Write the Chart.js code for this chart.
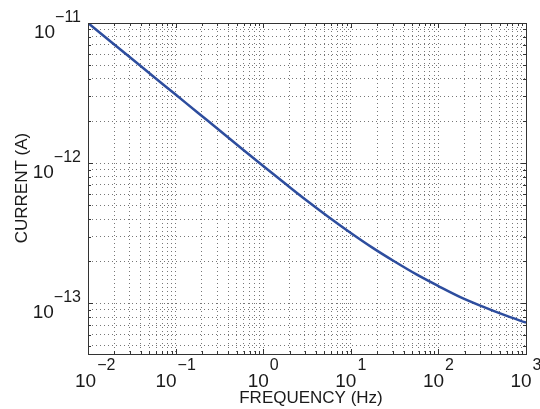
<!DOCTYPE html>
<html>
<head>
<meta charset="utf-8">
<script src="https://cdn.jsdelivr.net/npm/chart.js@4/dist/chart.umd.min.js"></script>
<style>
  html, body { margin: 0; padding: 0; background: #fff; }
  canvas { display: block; }
</style>
</head>
<body>
<canvas id="myChart" width="540" height="409"></canvas>
<script>
// Data (log-log plot), quarter decade steps
const frequency = [0.01, 0.0178, 0.0316, 0.0562, 0.1, 0.178, 0.316, 0.562, 1, 1.78, 3.16,
  5.62, 10, 17.8, 31.6, 56.2, 100, 178, 316, 562, 1000];
const current = [1.0e-11, 7.45e-12, 5.56e-12, 4.14e-12, 3.09e-12, 2.30e-12, 1.72e-12, 1.28e-12,
  9.55e-13, 7.16e-13, 5.40e-13, 4.12e-13, 3.18e-13, 2.49e-13, 1.99e-13, 1.61e-13, 1.33e-13,
  1.11e-13, 9.53e-14, 8.28e-14, 7.29e-14];

// Axis decades that get a "10^n" label
const xDecades = [-2, -1, 0, 1, 2, 3];
const yDecades = [-13, -12, -11];
const xLimits = [0.01, 1000];
const yLimits = [4.36e-14, 1e-11];

const FONT = '"Liberation Sans", Arial, sans-serif';

// 1..9 x 10^n ticks inside the limits (grid positions)
function logTicks(min, max) {
  const out = [];
  for (let e = Math.floor(Math.log10(min)); e <= Math.ceil(Math.log10(max)); e++) {
    for (let m = 1; m <= 9; m++) {
      const v = m * Math.pow(10, e);
      if (v >= min * 0.999 && v <= max * 1.001) out.push({ value: v, major: m === 1 });
    }
  }
  return out;
}

function expText(e) {
  return e < 0 ? '\u2212' + (-e) : String(e);
}

// Box, inward tick marks and MATLAB style 10^n labels
const axesDecor = {
  id: 'axesDecor',
  afterDraw(chart) {
    const { ctx, chartArea: a, scales: { x, y } } = chart;
    ctx.save();
    ctx.strokeStyle = '#333';
    ctx.lineWidth = 1;

    x.ticks.forEach(t => {
      const px = Math.round(x.getPixelForValue(t.value)) + 0.5;
      const len = t.major ? 5 : 3;
      ctx.beginPath();
      ctx.moveTo(px, a.bottom); ctx.lineTo(px, a.bottom - len);
      ctx.moveTo(px, a.top); ctx.lineTo(px, a.top + len);
      ctx.stroke();
    });
    y.ticks.forEach(t => {
      const py = Math.round(y.getPixelForValue(t.value)) + 0.5;
      const len = t.major ? 5 : 3;
      ctx.beginPath();
      ctx.moveTo(a.left, py); ctx.lineTo(a.left + len, py);
      ctx.moveTo(a.right, py); ctx.lineTo(a.right - len, py);
      ctx.stroke();
    });
    ctx.strokeRect(Math.round(a.left) + 0.5, Math.round(a.top) + 0.5,
      Math.round(a.right - a.left), Math.round(a.bottom - a.top));

    ctx.fillStyle = '#1a1a1a';
    ctx.textBaseline = 'alphabetic';
    const baseFont = '19px ' + FONT;
    const expFont = '16px ' + FONT;

    // x labels
    xDecades.forEach((e, i) => {
      const px = x.getPixelForValue(Math.pow(10, e));
      ctx.font = baseFont;
      const wb = ctx.measureText('10').width;
      ctx.font = expFont;
      const we = ctx.measureText(expText(e)).width;
      let left = px - (wb + 1 + we) / 2;
      if (i === 0) left = Math.max(left, a.left - 13);
      ctx.textAlign = 'left';
      ctx.font = baseFont;
      ctx.fillText('10', left, a.bottom + 33);
      ctx.font = expFont;
      ctx.fillText(expText(e), left + wb + 1, a.bottom + 16);
    });

    // y labels
    yDecades.forEach(e => {
      const py = y.getPixelForValue(Math.pow(10, e));
      ctx.font = expFont;
      const we = ctx.measureText(expText(e)).width;
      const right = a.left - 7;
      ctx.textAlign = 'right';
      ctx.fillText(expText(e), right, py - 1);
      ctx.font = baseFont;
      ctx.fillText('10', right - we, py + 15);
    });

    // axis titles
    ctx.font = '17px ' + FONT;
    ctx.textAlign = 'center';
    ctx.fillText('FREQUENCY (Hz)', (a.left + a.right) / 2 + 4, 403);
    ctx.save();
    ctx.translate(27, 188);
    ctx.rotate(-Math.PI / 2);
    ctx.fillText('CURRENT (A)', 0, 0);
    ctx.restore();

    ctx.restore();
  }
};

const ctx1 = document.getElementById('myChart').getContext('2d');

new Chart(ctx1, {
  type: 'line',
  data: {
    datasets: [{
      label: 'Current',
      data: frequency.map((f, i) => ({ x: f, y: current[i] })),
      borderColor: '#2d4d9e',
      borderWidth: 2.5,
      pointRadius: 0,
      fill: false,
      cubicInterpolationMode: 'monotone'
    }]
  },
  options: {
    responsive: false,
    animation: false,
    layout: { padding: { left: 88, top: 23, right: 14, bottom: 55 } },
    plugins: {
      legend: { display: false },
      tooltip: { enabled: false }
    },
    scales: {
      x: {
        type: 'logarithmic',
        min: xLimits[0],
        max: xLimits[1],
        afterBuildTicks: s => { s.ticks = logTicks(xLimits[0], xLimits[1]); },
        ticks: { display: false },
        grid: { color: '#777', lineWidth: 1, drawTicks: false },
        border: { display: false, dash: [1, 3] }
      },
      y: {
        type: 'logarithmic',
        min: yLimits[0],
        max: yLimits[1],
        afterBuildTicks: s => { s.ticks = logTicks(yLimits[0], yLimits[1]); },
        ticks: { display: false },
        grid: { color: '#777', lineWidth: 1, drawTicks: false },
        border: { display: false, dash: [1, 3] }
      }
    }
  },
  plugins: [axesDecor]
});
</script>
</body>
</html>
